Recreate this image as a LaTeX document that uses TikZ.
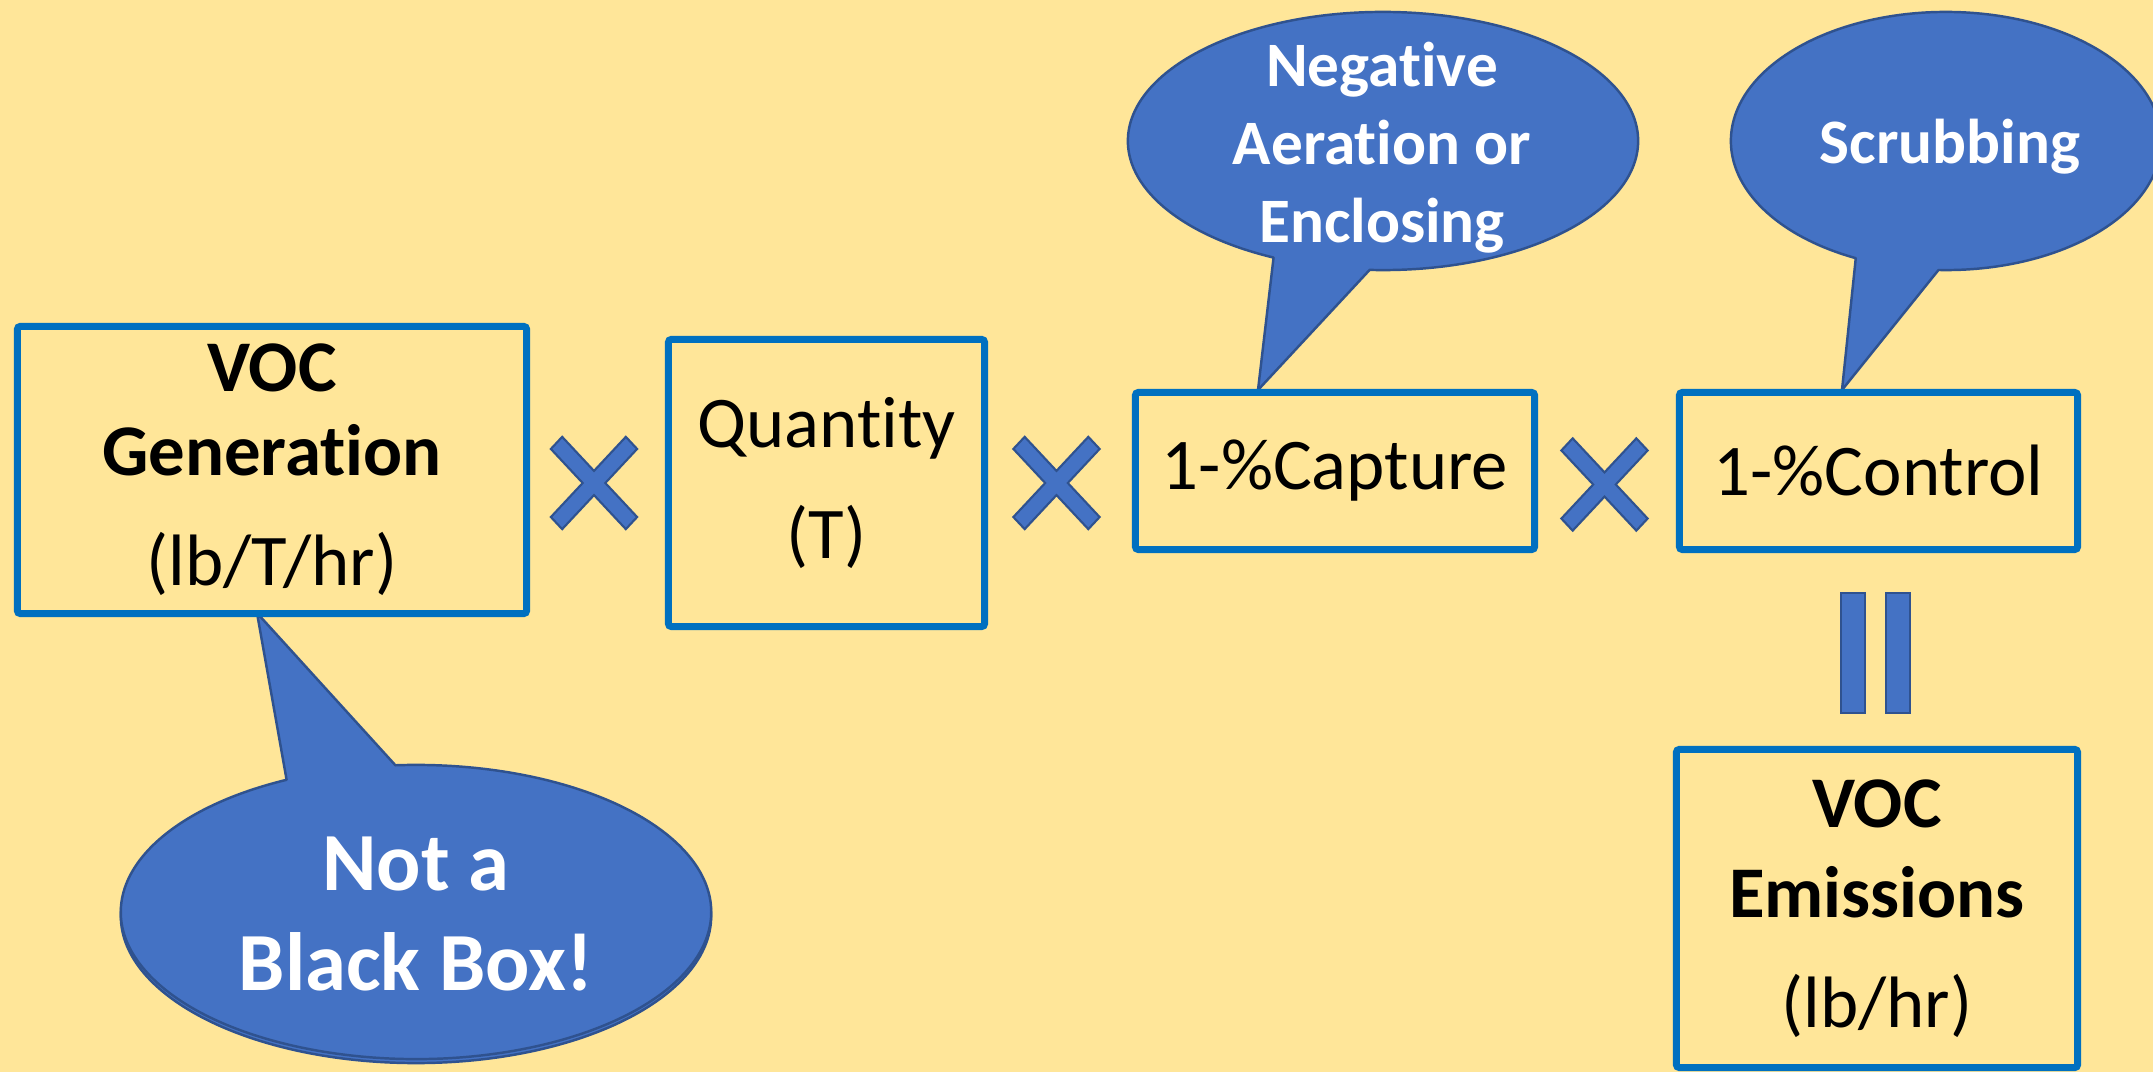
\documentclass[tikz,border=0pt]{standalone}
\usepackage{fontspec}
\setmainfont{Carlito}[Ligatures=NoCommon]
\usetikzlibrary{calc}
\definecolor{bg}{HTML}{FFE699}
\definecolor{boxblue}{HTML}{0070C0}
\definecolor{bubfill}{HTML}{4472C4}
\definecolor{bubline}{HTML}{2F528F}
\begin{document}
\begin{tikzpicture}[x=0.01cm,y=0.01cm,
  termbox/.style={draw=boxblue, line width=0.07cm, rounded corners=0.03cm, align=center, inner sep=0pt},
  bubble/.style={fill=bubfill, draw=bubline, line width=0.7pt, line join=round},
  bubtext/.style={text=white, align=center, font=\bfseries\fontsize{18}{22.2}\selectfont},
  opsign/.style={fill=bubfill, draw=bubline, line width=0.6pt, line join=miter},
  mulsign/.pic={\path[opsign, yscale=1.07, rotate=45]
     (8,8) -- (53,8) -- (53,-8) -- (8,-8) -- (8,-53) -- (-8,-53) -- (-8,-8) -- (-53,-8)
     -- (-53,8) -- (-8,8) -- (-8,53) -- (8,53) -- cycle;}
]
\useasboundingbox (0,0) rectangle (2153,1072);
\clip (0,0) rectangle (2153,1072);
\fill[bg] (0,0) rectangle (2153,1072);

% bubble centres and tips
\coordinate (c1) at (1383,931);
\coordinate (c2) at (1946,931);
\coordinate (c3) at (416,160);
\coordinate (tip1) at (1258,682);
\coordinate (tip2) at (1842,682);
\coordinate (tip3) at (257,459);

% bubbles
\draw[bubble] ($(c1)+(244.6:2.55cm and 1.29cm)$) -- (tip1) -- ($(c1)+(267:2.55cm and 1.29cm)$)
   arc[start angle=267, end angle=604.6, x radius=2.55cm, y radius=1.29cm] -- cycle;
\draw[bubble] ($(c2)+(245.2:2.15cm and 1.29cm)$) -- (tip2) -- ($(c2)+(268:2.15cm and 1.29cm)$)
   arc[start angle=268, end angle=605.2, x radius=2.15cm, y radius=1.29cm] -- cycle;
\draw[bubble] ($(c3)+(0,-4)$) ellipse[x radius=2.95cm, y radius=1.47cm];
\draw[bubble] ($(c3)+(94:2.95cm and 1.47cm)$) -- (tip3) -- ($(c3)+(116:2.95cm and 1.47cm)$)
   arc[start angle=116, end angle=454, x radius=2.95cm, y radius=1.47cm] -- cycle;

\node[bubtext] (t1) at (1382,924) {Negative\\Aeration or\\Enclosing};
\node[bubtext] (t2) at (1950,925) {Scrubbing};
\node[bubtext, font=\bfseries\fontsize{23.5}{28.2}\selectfont] (t3) at (416,158) {Not a\\Black Box!};

% boxes
\node[termbox, minimum width=5.09cm, minimum height=2.87cm, font=\fontsize{20.7}{23.8}\selectfont]
  (gen) at (272,602) {\textbf{VOC}\\\textbf{Generation}\\[7.5pt](lb/T/hr)};
\node[termbox, minimum width=3.16cm, minimum height=2.87cm, font=\fontsize{20.7}{23.3}\selectfont]
  (qty) at (826.5,589) {Quantity\\[8pt](T)};
\node[termbox, minimum width=3.99cm, minimum height=1.57cm, font=\fontsize{20.7}{23.3}\selectfont]
  (cap) at (1335,601) {1-\%Capture};
\node[termbox, minimum width=3.98cm, minimum height=1.57cm, font=\fontsize{20.7}{23.3}\selectfont]
  (ctl) at (1878.5,601) {1-\%Control};
\node[termbox, minimum width=4.01cm, minimum height=3.18cm, font=\fontsize{20.7}{25.6}\selectfont]
  (emi) at (1877,163.5) {\textbf{VOC}\\\textbf{Emissions}\\[5.7pt](lb/hr)};

% operators
\pic at (594,589) {mulsign};
\pic at (1056.5,589) {mulsign};
\pic at (1604.5,587.5) {mulsign};
\path[opsign] (1841,479) rectangle (1865,359);
\path[opsign] (1886,479) rectangle (1910,359);
\end{tikzpicture}
\end{document}
